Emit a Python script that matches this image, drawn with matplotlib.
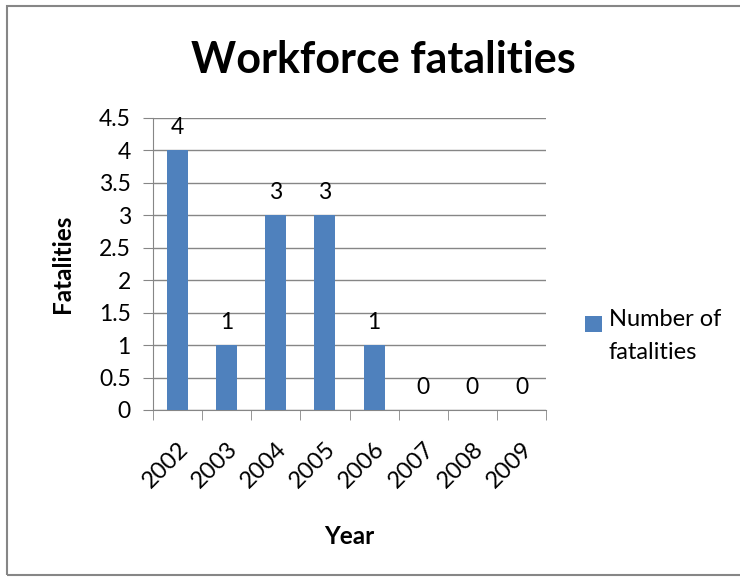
import matplotlib.pyplot as plt
import matplotlib.transforms as mtransforms
from matplotlib.patches import Rectangle
from matplotlib.legend_handler import HandlerPatch, update_from_first_child

years = ['2002', '2003', '2004', '2005', '2006', '2007', '2008', '2009']
fatalities = [4, 1, 3, 3, 1, 0, 0, 0]
yticks = [0, 0.5, 1, 1.5, 2, 2.5, 3, 3.5, 4, 4.5]

plt.rcParams['font.family'] = ['Lato', 'DejaVu Sans']

fig = plt.figure(figsize=(7.4, 5.79), dpi=100)
ax = fig.add_axes([153/740, 1-410/579, (546-153)/740, (410-118)/579])

x = range(len(years))
bars = ax.bar(x, fatalities, width=0.43, color='#4F81BD', label='Number of\nfatalities', zorder=3)
for xi, v in zip(x, fatalities):
    ax.annotate(str(v), (xi, v), xytext=(0, 9), textcoords='offset points',
                ha='center', va='bottom', fontsize=16.5)

ax.set_xlim(-0.5, len(years)-0.5)
ax.set_ylim(0, 4.5)
ax.set_yticks(yticks)
ax.set_yticklabels([('%g' % t) for t in yticks], fontsize=16.5)
ax.set_xticks(x)
ax.set_xticklabels(years, rotation=45, ha='right', rotation_mode='anchor', fontsize=17)
shift = mtransforms.ScaledTranslation(-4/100, 0, fig.dpi_scale_trans)
for lab in ax.get_xticklabels():
    lab.set_transform(lab.get_transform() + shift)
ax.set_xticks([i-0.5 for i in range(len(years)+1)], minor=True)
ax.tick_params(axis='x', which='major', length=0, pad=20)
ax.tick_params(axis='x', which='minor', length=7, color='#868686', direction='out')
ax.tick_params(axis='y', length=7, color='#868686', pad=9)
ax.yaxis.grid(True, color='#868686', linewidth=1, zorder=0)
for s in ['top', 'right']:
    ax.spines[s].set_visible(False)
ax.spines['left'].set_color('#868686')
ax.spines['bottom'].set_color('#868686')

ax.set_ylabel('Fatalities', fontsize=17.5, fontweight='bold', labelpad=18)
ax.set_xlabel('Year', fontsize=17.5, fontweight='bold', labelpad=24)
fig.text(383/740, 1-60/579, 'Workforce fatalities', fontsize=31, fontweight='bold',
         ha='center', va='center')


# legend square sits next to the first line of the label, like Excel
def top_square(legend, orig_handle, xdescent, ydescent, width, height, fontsize):
    return Rectangle((-xdescent, -ydescent + height - width), width, width)


leg = fig.legend(handles=[bars], loc='center left', bbox_to_anchor=(564/740, 1-336/579),
                 frameon=False, fontsize=17, handlelength=0.7, handleheight=2.45,
                 handletextpad=0.3,
                 handler_map={type(bars): HandlerPatch(patch_func=top_square,
                                                       update_func=update_from_first_child)})
leg.get_texts()[0].set_linespacing(1.65)

fig.patches.append(Rectangle((7/740, 4/579), 740/740, 569/579, transform=fig.transFigure,
                             fill=False, edgecolor='#868686', linewidth=1.5))

fig.savefig('out.png', dpi=100)
